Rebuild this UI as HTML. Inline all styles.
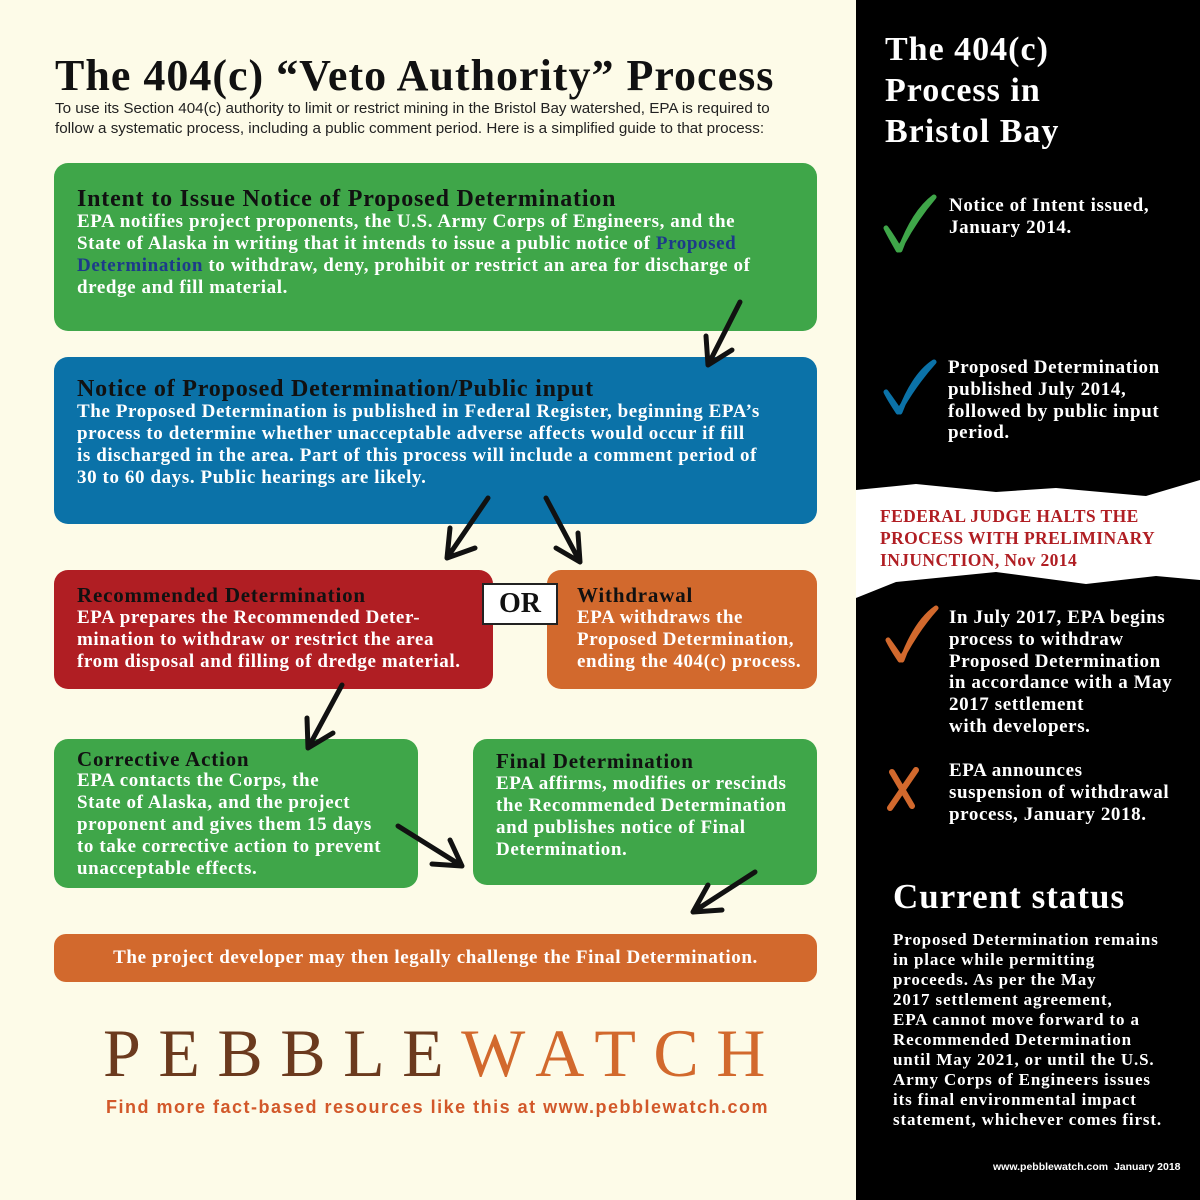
<!DOCTYPE html>
<html><head><meta charset="utf-8"><style>
*{margin:0;padding:0;box-sizing:border-box}
body{width:1200px;height:1200px;background:#fdfbe8;position:relative;overflow:hidden;font-family:"Liberation Serif",serif;font-weight:bold}
.a{position:absolute;white-space:nowrap}
.box{position:absolute;border-radius:14px}
.t{position:absolute;white-space:nowrap;font-weight:bold;color:#111;font-size:24px;letter-spacing:0.8px}
.b{position:absolute;white-space:nowrap;color:#fff;font-size:19px;line-height:22px;letter-spacing:0.6px}
.s{position:absolute;white-space:nowrap;color:#fff;font-size:19px;line-height:21.8px;letter-spacing:0.6px}
</style></head><body>
<div class="a" style="left:55px;top:50px;font-size:44px;color:#111;letter-spacing:1px">The 404(c) “Veto Authority” Process</div>
<div class="a" style="left:55px;top:99px;font-family:'Liberation Sans',sans-serif;font-weight:normal;font-size:15.2px;line-height:20px;color:#222">To use its Section 404(c) authority to limit or restrict mining in the Bristol Bay watershed, EPA is required to<br>follow a systematic process, including a public comment period. Here is a simplified guide to that process:</div>

<div class="box" style="left:54px;top:163px;width:763px;height:168px;background:#3fa649"></div>
<div class="t" style="left:77px;top:186px">Intent to Issue Notice of Proposed Determination</div>
<div class="b" style="left:77px;top:211px">EPA notifies project proponents, the U.S. Army Corps of Engineers, and the<br>State of Alaska in writing that it intends to issue a public notice of <span style="color:#1d3a8a">Proposed</span><br><span style="color:#1d3a8a">Determination</span> to withdraw, deny, prohibit or restrict an area for discharge of<br>dredge and fill material.</div>

<div class="box" style="left:54px;top:357px;width:763px;height:167px;background:#0b72a8"></div>
<div class="t" style="left:77px;top:376px">Notice of Proposed Determination/Public input</div>
<div class="b" style="left:77px;top:401px">The Proposed Determination is published in Federal Register, beginning EPA’s<br>process to determine whether unacceptable adverse affects would occur if fill<br>is discharged in the area. Part of this process will include a comment period of<br>30 to 60 days. Public hearings are likely.</div>

<div class="box" style="left:54px;top:570px;width:439px;height:119px;background:#b01e23"></div>
<div class="t" style="left:77px;top:583px;font-size:21px">Recommended Determination</div>
<div class="b" style="left:77px;top:607px">EPA prepares the Recommended Deter-<br>mination to withdraw or restrict the area<br>from disposal and filling of dredge material.</div>

<div class="box" style="left:547px;top:570px;width:270px;height:119px;background:#d2692d"></div>
<div class="t" style="left:577px;top:583px;font-size:21px">Withdrawal</div>
<div class="b" style="left:577px;top:607px">EPA withdraws the<br>Proposed Determination,<br>ending the 404(c) process.</div>

<div class="a" style="left:482px;top:583px;width:76px;height:42px;background:#fff;border:2px solid #222;text-align:center;font-size:28px;line-height:38px;color:#111">OR</div>

<div class="box" style="left:54px;top:739px;width:364px;height:149px;background:#3fa649"></div>
<div class="t" style="left:77px;top:747px;font-size:21px">Corrective Action</div>
<div class="b" style="left:77px;top:770px">EPA contacts the Corps, the<br>State of Alaska, and the project<br>proponent and gives them 15 days<br>to take corrective action to prevent<br>unacceptable effects.</div>

<div class="box" style="left:473px;top:739px;width:344px;height:146px;background:#3fa649"></div>
<div class="t" style="left:496px;top:749px;font-size:21px">Final Determination</div>
<div class="b" style="left:496px;top:773px">EPA affirms, modifies or rescinds<br>the Recommended Determination<br>and publishes notice of Final<br>Determination.</div>

<div class="box" style="left:54px;top:934px;width:763px;height:48px;background:#d2692d;border-radius:12px"></div>
<div class="b" style="left:54px;top:947px;width:763px;text-align:center">The project developer may then legally challenge the Final Determination.</div>

<div class="a" style="left:103px;top:1018px;font-family:'Liberation Serif',serif;font-weight:normal;font-size:68px;letter-spacing:17.5px;line-height:70px"><span style="color:#6b3a1e">PEBBLE</span><span style="color:#d2692d">WATCH</span></div>
<div class="a" style="left:106px;top:1097px;font-family:'Liberation Sans',sans-serif;font-size:18px;letter-spacing:1.5px;color:#d2582a">Find more fact-based resources like this at www.pebblewatch.com</div>

<svg class="a" style="left:0;top:0" width="856" height="1200">
<g stroke="#111" stroke-width="5" fill="none" stroke-linecap="round" stroke-linejoin="round">
<path d="M740 302 L708 365 M706 336 L708 365 L732 350"/>
<path d="M488 498 L447 558 M450 528 L447 558 L475 548"/>
<path d="M546 498 L580 562 M556 548 L580 562 L578 533"/>
<path d="M342 685 L308 748 M307 718 L308 748 L333 733"/>
<path d="M398 826 L462 866 M432 864 L462 866 L450 840"/>
<path d="M755 872 L693 912 M708 885 L693 912 L722 910"/>
</g>
</svg>

<div class="a" style="left:856px;top:0;width:344px;height:1200px;background:#000"></div>
<svg class="a" style="left:856px;top:470px" width="344" height="140"><path d="M0 20 L60 14 L140 22 L200 18 L290 26 L344 10 L344 110 L300 106 L230 114 L140 102 L40 112 L0 128 Z" fill="#fff"/></svg>
<div class="a" style="left:885px;top:29px;font-size:34px;line-height:41px;color:#fff;letter-spacing:1px">The 404(c)<br>Process in<br>Bristol Bay</div>

<svg class="a" style="left:856px;top:0" width="344" height="1200">
<path d="M30 228 Q36 236 44 250 Q58 212 78 197 Q60 218 46 244 L42 250 Q34 236 30 228 Z" fill="#3fa649" stroke="#3fa649" stroke-width="5" stroke-linejoin="round"/>
<path d="M30 392 Q36 400 44 412 Q58 375 78 362 Q60 382 46 406 L42 412 Q34 400 30 392 Z" fill="#0b72a8" stroke="#0b72a8" stroke-width="5" stroke-linejoin="round"/>
<path d="M32 640 Q38 648 46 660 Q60 622 80 608 Q62 628 48 654 L44 660 Q36 648 32 640 Z" fill="#d2692d" stroke="#d2692d" stroke-width="5" stroke-linejoin="round"/>
<g stroke="#d2692d" stroke-width="6" stroke-linecap="round"><path d="M36 772 L56 806 M60 770 L34 808"/></g>
</svg>
<div class="s" style="left:949px;top:195px">Notice of Intent issued,<br>January 2014.</div>
<div class="s" style="left:948px;top:357px">Proposed Determination<br>published July 2014,<br>followed by public input<br>period.</div>
<div class="a" style="left:880px;top:506px;font-size:17.5px;line-height:21.8px;color:#b01e23;letter-spacing:0.4px">FEDERAL JUDGE HALTS THE<br>PROCESS WITH PRELIMINARY<br>INJUNCTION, Nov 2014</div>
<div class="s" style="left:949px;top:607px">In July 2017, EPA begins<br>process to withdraw<br>Proposed Determination<br>in accordance with a May<br>2017 settlement<br>with developers.</div>
<div class="s" style="left:949px;top:760px">EPA announces<br>suspension of withdrawal<br>process, January 2018.</div>
<div class="a" style="left:893px;top:877px;font-size:35px;color:#fff;letter-spacing:1px">Current status</div>
<div class="a" style="left:893px;top:930px;font-size:17px;line-height:20px;color:#fff;letter-spacing:0.85px">Proposed Determination remains<br>in place while permitting<br>proceeds. As per the May<br>2017 settlement agreement,<br>EPA cannot move forward to a<br>Recommended Determination<br>until May 2021, or until the U.S.<br>Army Corps of Engineers issues<br>its final environmental impact<br>statement, whichever comes first.</div>
<div class="a" style="left:993px;top:1161px;font-family:'Liberation Sans',sans-serif;font-size:10.5px;color:#fff">www.pebblewatch.com&nbsp; January 2018</div>
</body></html>
